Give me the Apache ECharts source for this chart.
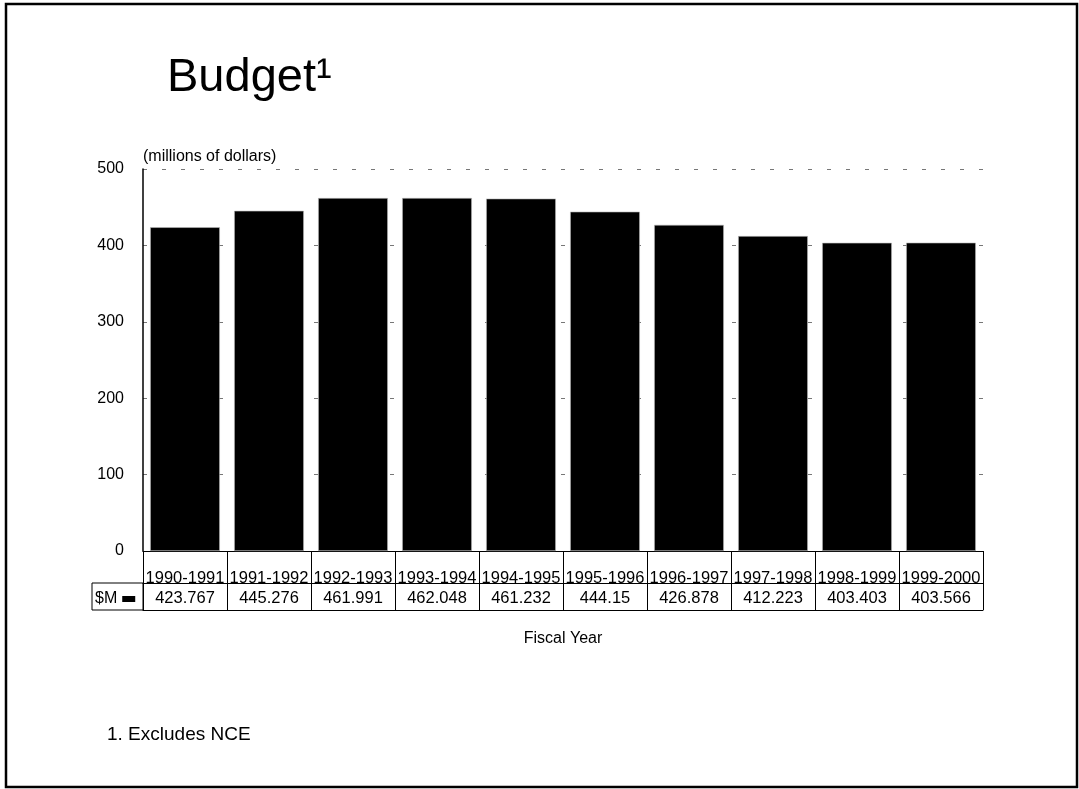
<!DOCTYPE html>
<html>
<head>
<meta charset="utf-8">
<title>Budget</title>
<script src="https://cdn.jsdelivr.net/npm/echarts@6/dist/echarts.min.js"></script>
<style>
  html, body { margin: 0; padding: 0; background: #fff; }
  #chart { width: 1079px; height: 789px; }
</style>
</head>
<body>
<div id="chart"></div>
<script>
// === Données ===
const annees = ["1990-1991", "1991-1992", "1992-1993", "1993-1994", "1994-1995",
                "1995-1996", "1996-1997", "1997-1998", "1998-1999", "1999-2000"];
const budget = [423.767, 445.276, 461.991, 462.048, 461.232, 444.15, 426.878, 412.223, 403.403, 403.566];
const ticksY = [0, 100, 200, 300, 400, 500];

// === Mise en page ===
const police = "Liberation Sans, Arial, sans-serif";
const gauche = 143, haut = 169, droite = 983, bas = 551;
const ligne1 = 583, ligne2 = 610;

const chart = echarts.init(document.getElementById("chart"));

const option = {
    backgroundColor: "#fff",
    animation: false,
    textStyle: { fontFamily: police, color: "#000" },
    title: [
        { text: "Budget\u00b9", left: 167, top: 55, padding: 0,
          textStyle: { fontSize: 47, fontWeight: "normal", color: "#000", fontFamily: police } },
        { text: "1. Excludes NCE", left: 107, top: 725, padding: 0,
          textStyle: { fontSize: 19, fontWeight: "normal", color: "#000", fontFamily: police } }
    ],
    legend: {
        data: ["$M"],
        left: 95, top: 591, padding: 0,
        align: "right",
        icon: "rect", itemWidth: 13, itemHeight: 6, itemGap: 4,
        itemStyle: { color: "#000", borderWidth: 0 },
        textStyle: { fontSize: 16, color: "#000", fontFamily: police, padding: [0, 0, 0, 0] }
    },
    grid: { left: gauche, top: haut, right: 1079 - droite, bottom: 789 - bas, containLabel: false },
    xAxis: [
        {   // années + traits verticaux du tableau
            type: "category", data: annees, position: "bottom",
            axisLine: { lineStyle: { color: "#000", width: 1 } },
            axisTick: { show: true, interval: 0, length: ligne2 - bas, lineStyle: { color: "#000", width: 1 } },
            axisLabel: { interval: 0, margin: 18, fontSize: 16.5, color: "#000", fontFamily: police, lineHeight: 18 },
            splitLine: { show: false }
        },
        {   // valeurs
            type: "category", data: budget.map(v => String(v)), position: "bottom", offset: ligne1 - bas,
            axisLine: { lineStyle: { color: "#000", width: 1 } },
            axisTick: { show: false },
            axisLabel: { interval: 0, margin: 6, fontSize: 16.5, color: "#000", fontFamily: police, lineHeight: 18 }
        },
        {   // bas du tableau + titre de l'axe
            type: "category", data: annees, position: "bottom", offset: ligne2 - bas,
            axisLine: { lineStyle: { color: "#000", width: 1 } },
            axisTick: { show: false },
            axisLabel: { show: false },
            name: "Fiscal Year", nameLocation: "middle", nameGap: 21,
            nameTextStyle: { fontSize: 16, color: "#000", fontFamily: police }
        }
    ],
    yAxis: {
        type: "value", min: ticksY[0], max: ticksY[ticksY.length - 1], interval: 100,
        name: "(millions of dollars)", nameLocation: "end", nameGap: 4,
        nameTextStyle: { fontSize: 16, color: "#000", align: "left", fontFamily: police },
        axisLine: { show: true, lineStyle: { color: "#000", width: 1.5 } },
        axisTick: { show: false },
        axisLabel: { margin: 19, fontSize: 16, color: "#000", fontFamily: police, padding: [3, 0, 0, 0] },
        splitLine: { show: true, lineStyle: { color: "#777", width: 1, type: [4, 15] } }
    },
    series: [{
        name: "$M",
        type: "bar",
        data: budget,
        xAxisIndex: 0,
        barCategoryGap: "17%",
        itemStyle: { color: "#000", borderColor: "#bbb", borderWidth: 0.6 }
    }],
    graphic: [
        {   // case de gauche ($M)
            type: "rect", silent: true,
            shape: { x: 92, y: ligne1, width: gauche - 92, height: ligne2 - ligne1 },
            style: { fill: "none", stroke: "#000", lineWidth: 1 }
        },
        {   // cadre de la diapo
            type: "rect", silent: true,
            shape: { x: 6, y: 4, width: 1071, height: 783 },
            style: { fill: "none", stroke: "#000", lineWidth: 2.5 }
        }
    ]
};

chart.setOption(option);
</script>
</body>
</html>
